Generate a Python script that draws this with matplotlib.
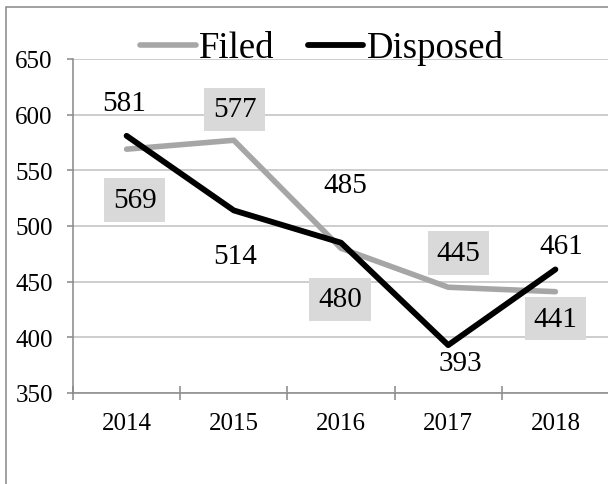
import matplotlib.pyplot as plt
from matplotlib.patches import Rectangle

plt.rcParams['font.family'] = ['Liberation Serif', 'DejaVu Serif']

years = ['2014', '2015', '2016', '2017', '2018']
filed = [569, 577, 480, 445, 441]
disposed = [581, 514, 485, 393, 461]

# label nudges in pixels (dx, dy) so the numbers sit clear of the lines
filed_offsets = [(8, -51), (1, 31), (-1, -51), (10, 34), (0, -27)]
disposed_offsets = [(-2, 33), (1, -46), (4, 58), (12, -18), (6, 23)]

fig = plt.figure(figsize=(6.08, 4.85), dpi=100)
ax = fig.add_axes([73 / 608, 91 / 485, 536 / 608, 334 / 485])

x = list(range(len(years)))
ax.plot(x, filed, color='#a6a6a6', lw=4.0, solid_capstyle='round',
        solid_joinstyle='round', label='Filed', zorder=3)
ax.plot(x, disposed, color='black', lw=4.2, solid_capstyle='round',
        solid_joinstyle='round', label='Disposed', zorder=4)

for xi, v, (dx, dy) in zip(x, filed, filed_offsets):
    ax.annotate(str(v), (xi, v), xytext=(dx, dy), textcoords='offset pixels',
                ha='center', va='center', fontsize=21, zorder=5,
                bbox=dict(boxstyle='square,pad=0.3', fc='#d9d9d9', ec='none'))
for xi, v, (dx, dy) in zip(x, disposed, disposed_offsets):
    ax.annotate(str(v), (xi, v), xytext=(dx, dy), textcoords='offset pixels',
                ha='center', va='center', fontsize=21, zorder=5)

ax.set_xlim(-0.5, len(years) - 0.5)
ax.set_ylim(350, 650)
ax.set_yticks(range(350, 651, 50))
ax.set_xticks(x)
ax.set_xticklabels(years)
ax.set_xticks([i - 0.5 for i in range(len(years) + 1)], minor=True)

ax.grid(axis='y', color='#c0c0c0', lw=1.1)
ax.set_axisbelow(True)
for side in ['top', 'right']:
    ax.spines[side].set_visible(False)
for side in ['left', 'bottom']:
    ax.spines[side].set_color('#888888')
    ax.spines[side].set_linewidth(1.1)

ax.tick_params(axis='y', length=4.5, width=1.1, color='#888888',
               labelsize=18, pad=10)
ax.tick_params(axis='x', which='major', length=0, labelsize=18, pad=14)
ax.tick_params(axis='x', which='minor', direction='inout', length=10,
               width=1.1, color='#888888')

fig.legend(loc='center', bbox_to_anchor=(322 / 608, 1 - 49 / 485),
           ncol=2, frameon=False, fontsize=26.5, handlelength=1.5,
           handletextpad=0.1, columnspacing=0.9, borderpad=0,
           borderaxespad=0)

# outer chart border (runs off the right and bottom edges)
fig.add_artist(Rectangle((6 / 608, -0.5), 2, 1.5 - 8 / 485,
                         transform=fig.transFigure, fill=False,
                         ec='#888888', lw=1.1))

fig.savefig('out.png', dpi=100)
